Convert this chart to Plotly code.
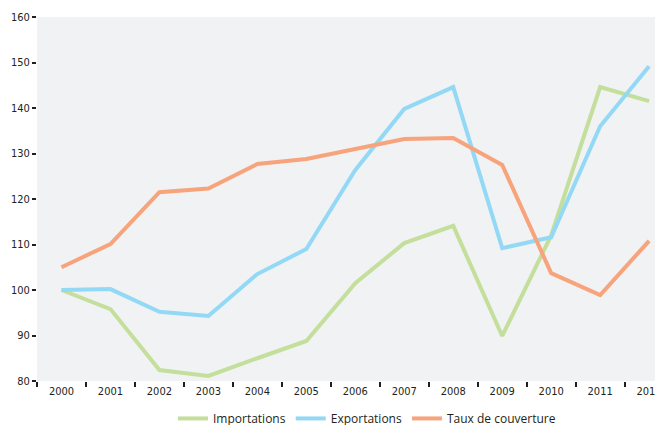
import plotly.graph_objects as go

years = ["2000", "2001", "2002", "2003", "2004", "2005", "2006", "2007", "2008", "2009", "2010", "2011", "2012"]
importations = [100, 95.8, 82.4, 81.1, 85.0, 88.8, 101.5, 110.3, 114.1, 89.9, 112.0, 144.6, 141.5]
exportations = [100, 100.2, 95.2, 94.3, 103.5, 109.0, 126.4, 139.8, 144.6, 109.2, 111.6, 136.0, 149.2]
taux = [105.0, 110.1, 121.5, 122.3, 127.7, 128.8, 131.0, 133.2, 133.4, 127.5, 103.7, 98.9, 110.8]

series = [
    ("Importations", importations, "#c4df9b"),
    ("Exportations", exportations, "#93d9f6"),
    ("Taux de couverture", taux, "#f7a47c"),
]

fig = go.Figure()
for name, vals, col in series:
    fig.add_trace(go.Scatter(x=years, y=vals, name=name, mode="lines",
                             line=dict(color=col, width=4)))

tickfont = dict(family="DejaVu Sans Condensed, Roboto, sans-serif", size=11, color="#231f20")

fig.update_layout(
    width=655, height=425,
    margin=dict(l=37, r=0, t=17, b=44, autoexpand=False),
    paper_bgcolor="white",
    plot_bgcolor="#f1f2f4",
    showlegend=True,
    legend=dict(orientation="h", x=0.22, xanchor="left", y=-0.063, yanchor="top",
                font=dict(family="Open Sans, sans-serif", size=12, color="#231f20"),
                tracegroupgap=0),
    xaxis=dict(type="category", range=[-0.5, 12.12], tickson="boundaries",
               ticks="outside", ticklen=5, tickwidth=1.5, tickcolor="#231f20",
               showgrid=False, zeroline=False, showline=False, automargin=False,
               ticklabelstandoff=2, tickfont=tickfont),
    yaxis=dict(range=[80, 160], dtick=10, ticks="outside", ticklen=4, tickwidth=1.5,
               tickcolor="#231f20", showgrid=False, zeroline=False, showline=False,
               automargin=False, tickfont=tickfont),
)

fig.write_html("out.html", config={"displayModeBar": False},
               post_script="document.body.style.margin='0';document.body.style.overflow='hidden';")
